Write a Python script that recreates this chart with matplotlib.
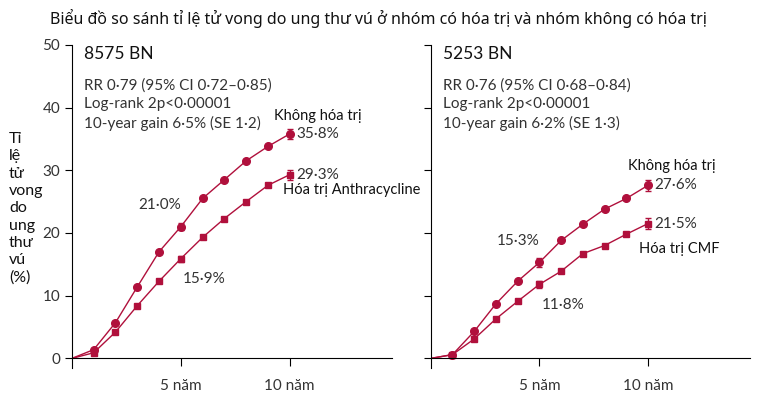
import matplotlib.pyplot as plt

# Data
years = [0, 1, 2, 3, 4, 5, 6, 7, 8, 9, 10]
left_none = [0, 1.4, 5.7, 11.4, 17.0, 21.0, 25.5, 28.5, 31.5, 33.8, 35.8]
left_anthra = [0, 0.9, 4.2, 8.4, 12.3, 15.9, 19.3, 22.3, 25.0, 27.6, 29.3]
right_none = [0, 0.6, 4.3, 8.7, 12.3, 15.3, 18.8, 21.4, 23.8, 25.5, 27.6]
right_cmf = [0, 0.6, 3.1, 6.3, 9.1, 11.8, 13.9, 16.7, 18.0, 19.8, 21.5]
err_years = [5, 10]
left_none_err = [0.6, 0.8]
left_anthra_err = [0.5, 0.8]
right_none_err = [0.7, 0.9]
right_cmf_err = [0.6, 0.9]

RED = "#b0103c"
TXT = "#333333"
FONT = "Lato"

fig = plt.figure(figsize=(7.57, 4.17), dpi=100)
fig.text(0.5, 0.955, "Biểu đồ so sánh tỉ lệ tử vong do ung thư vú ở nhóm có hóa trị và nhóm không có hóa trị",
         ha="center", va="center", fontsize=11.5, family="Noto Sans", color="#111111")

ax1 = fig.add_axes([0.095, 0.118, 0.423, 0.782])
ax2 = fig.add_axes([0.569, 0.118, 0.422, 0.782])


def panel(ax, none, treat, none_err, treat_err, n_text, stats, labels):
    ax.plot(years[1:], none[1:], "-o", color=RED, ms=5.5, lw=1)
    ax.plot(years[1:], treat[1:], "-s", color=RED, ms=5, lw=1)
    ax.plot(years[:2], none[:2], "-", color=RED, lw=1)
    ax.plot(years[:2], treat[:2], "-", color=RED, lw=1)
    ax.errorbar(err_years, [none[5], none[10]], yerr=none_err, fmt="none", ecolor=RED, capsize=2.5, lw=1)
    ax.errorbar(err_years, [treat[5], treat[10]], yerr=treat_err, fmt="none", ecolor=RED, capsize=2.5, lw=1)
    ax.set_xlim(0, 14.7)
    ax.set_ylim(-1.5, 50.5)
    for s in ["top", "right"]:
        ax.spines[s].set_visible(False)
    ax.spines["bottom"].set_position(("data", 0))
    ax.spines["left"].set_bounds(-1.5, 50)
    ax.set_xticks([5, 10])
    ax.set_xticklabels(["5 năm", "10 năm"], family=FONT, fontsize=11, color=TXT)
    ax.tick_params(axis="x", direction="out", length=6, pad=9)
    ax.set_yticks([0, 10, 20, 30, 40, 50])
    ax.tick_params(axis="y", length=5)
    ax.text(0.55, 48.5, n_text, fontsize=12.5, family=FONT, color="#111111", va="center")
    ax.text(0.55, 44.7, stats, fontsize=11, family=FONT, color=TXT, va="top", linespacing=1.4)
    ax.text(10.3, none[10], f"{labels[0]}%", fontsize=11, family=FONT, color=TXT, va="center")
    ax.text(10.3, treat[10], f"{labels[1]}%", fontsize=11, family=FONT, color=TXT, va="center")
    ax.text(5, none[5] + 2.3, f"{labels[2]}%", fontsize=11, family=FONT, color=TXT, ha="right", va="bottom")
    ax.text(5.1, treat[5] - 2.2, f"{labels[3]}%", fontsize=11, family=FONT, color=TXT, ha="left", va="top")
    return ax


panel(ax1, left_none, left_anthra, left_none_err, left_anthra_err, "8575 BN",
      "RR 0·79 (95% CI 0·72–0·85)\nLog-rank 2p<0·00001\n10-year gain 6·5% (SE 1·2)",
      ["35·8", "29·3", "21·0", "15·9"])
ax1.set_yticklabels(["0", "10", "20", "30", "40", "50"], family=FONT, fontsize=11, color=TXT)
ax1.text(9.3, 38.6, "Không hóa trị", fontsize=10.5, family=FONT, color="#111111", va="center")
ax1.text(9.7, 26.9, "Hóa trị Anthracycline", fontsize=10.5, family=FONT, color="#111111", va="center")

panel(ax2, right_none, right_cmf, right_none_err, right_cmf_err, "5253 BN",
      "RR 0·76 (95% CI 0·68–0·84)\nLog-rank 2p<0·00001\n10-year gain 6·2% (SE 1·3)",
      ["27·6", "21·5", "15·3", "11·8"])
ax2.set_yticklabels([])
ax2.text(9.1, 30.7, "Không hóa trị", fontsize=10.5, family=FONT, color="#111111", va="center")
ax2.text(9.6, 17.4, "Hóa trị CMF", fontsize=10.5, family=FONT, color="#111111", va="center")

fig.text(0.012, 0.50, "Tỉ\nlệ\ntử\nvong\ndo\nung\nthư\nvú\n(%)", fontsize=11.5, family=FONT,
         color="#111111", va="center", ha="left", linespacing=1.3)

fig.savefig("out.png", dpi=100)
